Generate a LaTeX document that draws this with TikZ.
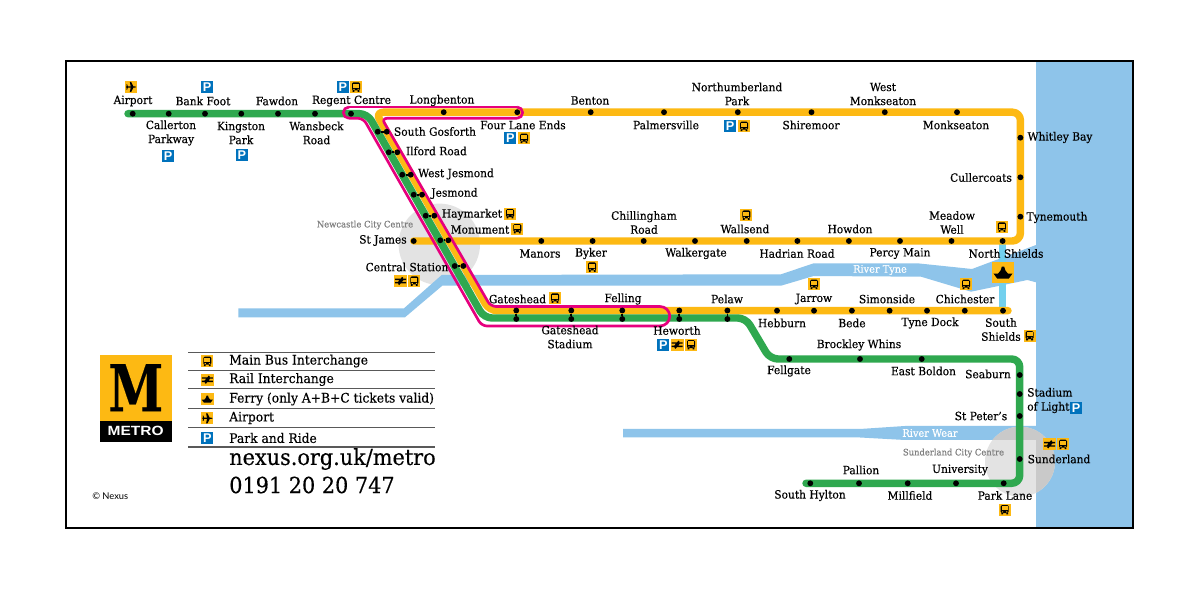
\documentclass[tikz,border=0pt]{standalone}
\usepackage{fontspec}
\usepackage{graphicx}
\setmainfont{DejaVu Serif}[FakeStretch=0.94,FakeBold=0.35]
\newfontfamily\iconfont{Liberation Sans}
\newfontfamily\nexusfont{Lato}
\definecolor{myyellow}{HTML}{FDB913}
\definecolor{mygreen}{HTML}{2FA84F}
\definecolor{mypink}{HTML}{E6007E}
\definecolor{mywater}{HTML}{8EC4EA}
\definecolor{myblue}{HTML}{0072BC}
\definecolor{mycirc}{HTML}{E3E3E3}
\definecolor{mycircd}{HTML}{C9C9C9}
\tikzset{
 lbl/.style={inner sep=0pt,align=center,font=\fontsize{8.5}{10.5}\selectfont,text=black},
 lgd/.style={inner sep=0pt,anchor=west,font=\fontsize{9.8}{12}\selectfont,text=black},
 big/.style={inner sep=0pt,anchor=west,font=\fontsize{16.6}{20}\selectfont,text=black},
 graylbl/.style={inner sep=0pt,font=\fontsize{6.7}{8}\selectfont,text=black!50},
 rivlbl/.style={inner sep=0pt,font=\fontsize{7.8}{9}\selectfont,text=white},
 dot/.style={circle,fill=black,minimum size=4.4pt,inner sep=0pt},
 yline/.style={draw=myyellow,line width=5.6pt,line cap=round,line join=round},
 gline/.style={draw=mygreen,line width=5.6pt,line cap=round,line join=round},
 pline/.style={draw=mypink,line width=2pt,line join=round},
 link/.style={draw=black,line width=1.3pt},
 rule/.style={draw=black!65,line width=.8pt},
 busicon/.pic={
  \fill[myyellow] (-6,-6) rectangle (6,6);
  \fill[black,rounded corners=1pt] (-4,-4.6) rectangle (4,3.4);
  \fill[black] (-3.4,3) rectangle (-1.6,4.8) (1.6,3) rectangle (3.4,4.8);
  \fill[myyellow] (-2.9,-3.3) rectangle (2.9,0.6);
  \fill[myyellow] (-2.7,1.8) rectangle (-1.5,2.8) (1.5,1.8) rectangle (2.7,2.8);
 },
 railicon/.pic={
  \fill[myyellow] (-6.5,-6) rectangle (6.5,6);
  \draw[black,line width=1.1pt] (-5.5,-1.7) -- (5.5,-1.7) (-5.5,1.7) -- (5.5,1.7) (2,-3.6) -- (-1,0) -- (1,0) -- (-2,3.6);
 },
 ferryicon/.pic={
  \fill[myyellow] (-6.5,-6) rectangle (6.5,6);
  \fill[black] (-5.6,0.6) -- (5.6,0.6) -- (3.4,3.6) -- (-3.4,3.6) -- cycle;
  \fill[black] (-3,0.8) -- (-1.4,-1.2) -- (-0.7,-3.4) -- (0.7,-3.4) -- (1.4,-1.2) -- (3,0.8) -- cycle;
 },
 planeicon/.pic={
  \fill[myyellow] (-6,-6) rectangle (6,6);
  \fill[black] (-5,-0.6) -- (4,-0.6) -- (5.4,0) -- (4,0.6) -- (-5,0.6) -- cycle;
  \fill[black] (-1.2,-5) -- (0.2,-5) -- (2.4,-0.6) -- (2.4,0.6) -- (0.2,5) -- (-1.2,5) -- (-0.2,0) -- cycle;
  \fill[black] (-4.6,-2.6) -- (-3.8,-2.6) -- (-3,0) -- (-3.8,2.6) -- (-4.6,2.6) -- (-4.2,0) -- cycle;
 },
 parkicon/.pic={
  \fill[myblue] (-6,-6) rectangle (6,6);
  \node[inner sep=0pt,text=white,font=\iconfont\fontsize{9.5}{10}\selectfont\bfseries] at (0.1,0) {P};
 }
}
\newcommand\st[3]{\node[dot] (#1) at (#2,#3) {};}
\newcommand\lab[4]{\node[lbl] (#1) at (#2,#3) {#4};}
\begin{document}
\begin{tikzpicture}[x=0.75pt,y=-0.75pt]
\useasboundingbox (0,0) rectangle (1200,591);
\fill[white] (0,0) rectangle (1200,591);
% water
\fill[mywater] (1036,61) rectangle (1133,528);
% city circles
\fill[mycirc] (439.3,244.3) circle (40.7);
% rivers
\fill[mywater] (238.3,308.3) -- (404,308.3) -- (441.7,275) -- (781,274.3) -- (813.7,263.3) -- (917.4,263.3) -- (972,269) -- (1036,245) -- (1036,282.3) -- (1027.4,280) -- (971,291.7) -- (921,276.7) -- (813.7,276) -- (781,285.7) -- (442.3,285.7) -- (405,317.3) -- (238.3,317.3) -- cycle;
\fill[mywater] (623,429) -- (860,429) -- (905,426) -- (1036,426) -- (1036,440) -- (905,440) -- (860,437.5) -- (623,437.5) -- cycle;
\fill[mycirc] (1020,461.7) circle (35);
\begin{scope}
 \clip (1036,400) rectangle (1100,520);
 \fill[mycircd] (1020,461.7) circle (35);
\end{scope}
\begin{scope}
 \clip (960,420) rectangle (1040,440);
 \fill[mycircd] (1020,461.7) circle (35);
\end{scope}
% North Shields ferry crossing
\coordinate (ferrytop) at (1002.6,241);
\coordinate (ferrybot) at (1002.6,310);
\draw[draw=mywater!80!cyan,line width=5.2pt] (ferrytop) -- (ferrybot);
% frame
\draw[black,line width=1.6pt] (66,61) rectangle (1133,528);
% lines
\coordinate (yA) at (413.7,241);
\coordinate (yB) at (1020.4,241);
\coordinate (yC) at (1020.4,112.2);
\coordinate (yD) at (375.4,112.2);
\coordinate (yE) at (489.3,310.7);
\coordinate (yF) at (1008,310.7);
\coordinate (gA) at (128,113.7);
\coordinate (gB) at (367.4,113.7);
\coordinate (gC) at (484,318);
\coordinate (gD) at (745.7,318);
\coordinate (gE) at (770,359);
\coordinate (gF) at (1019.7,359);
\coordinate (gG) at (1019.7,483.3);
\coordinate (gH) at (806,483.3);
\path[yline,rounded corners=6pt] (yA) -- (yB) -- (yC) -- (yD) -- (yE) -- (yF);
\path[gline,rounded corners=6pt] (gA) -- (gB) -- (gC) -- (gD) -- (gE) -- (gF) -- (gG) -- (gH);
% magenta section
\coordinate (pA) at (349,107);
\coordinate (pB) at (517,107);
\coordinate (pC) at (517,118.3);
\coordinate (pD) at (381.7,118.3);
\coordinate (pE) at (490.7,306.5);
\coordinate (pF) at (660,306.5);
\coordinate (pG) at (660,326);
\coordinate (pH) at (481.7,326);
\coordinate (pI) at (363.3,118.3);
\coordinate (pJ) at (349,118.3);
\draw[pline] (pB) arc[start angle=-90,end angle=90,radius=5.65];
\draw[pline] (pF) arc[start angle=-90,end angle=90,radius=9.75];
\draw[pline] (pJ) arc[start angle=90,end angle=270,radius=5.65];
\draw[pline] (pA) -- (pB);
\draw[pline,rounded corners=4pt] (pC) -- (pD) -- (pE) -- (pF);
\draw[pline,rounded corners=4pt] (pG) -- (pH) -- (pI) -- (pJ);
% stations
\st{airport}{132.7}{113.7}\st{callerton}{168.7}{113.7}\st{bankfoot}{205}{113.7}\st{kingston}{241.3}{113.7}\st{fawdon}{278}{113.7}\st{wansbeck}{315}{113.7}\st{regent}{351}{113.7}
\st{longbenton}{443.7}{112.2}\st{fourlane}{517.3}{112.2}\st{benton}{590.7}{112.2}\st{palmers}{664}{112.2}\st{northumb}{737.8}{112.2}\st{shiremoor}{811.5}{112.2}\st{westmonk}{884.8}{112.2}\st{monkseaton}{957}{112.2}
\st{whitley}{1020.4}{137.7}\st{culler}{1020.4}{177.3}\st{tynemouth}{1020.4}{216.7}
\st{stjames}{413.7}{241}\st{manors}{541.3}{241}\st{byker}{592.6}{241}\st{chilling}{643.7}{241}\st{walker}{695}{241}\st{wallsend}{746.7}{241}\st{hadrian}{797.4}{241}\st{howdon}{848.9}{241}\st{percy}{900}{241}\st{meadow}{951.5}{241}\st{nshields}{1002.6}{241}
\st{sgG}{377.7}{131.7}\st{sgY}{386.7}{131.7}\st{ilG}{388.7}{152.3}\st{ilY}{397.3}{152.3}\st{wjG}{402.3}{174.7}\st{wjY}{410.7}{174.7}\st{jeG}{413.7}{194.7}\st{jeY}{422}{194.7}\st{haG}{425.7}{215.7}\st{haY}{434.3}{215.7}\st{moG}{440.3}{240.3}\st{moY}{448.3}{240.3}\st{ceG}{454.7}{266}\st{ceY}{463.3}{266}
\st{gaY}{516.3}{310.5}\st{gaG}{516.3}{319}\st{gsY}{571.3}{310.5}\st{gsG}{571.3}{319}\st{feY}{622.3}{310.5}\st{feG}{622.3}{319}\st{heY}{679.3}{310.5}\st{heG}{679.3}{319}\st{peY}{727.4}{310.5}\st{peG}{727.4}{319}
\st{hebburn}{777}{310.7}\st{jarrow}{814}{310.7}\st{bede}{851.9}{310.7}\st{simon}{889.6}{310.7}\st{tyned}{927}{310.7}\st{chich}{964.8}{310.7}\st{sshields}{1003}{310.7}
\st{fellgate}{789.3}{359}\st{brockley}{860}{359}\st{eboldon}{921.7}{359}
\st{seaburn}{1019.7}{375}\st{stadium}{1019.7}{394}\st{stpeters}{1019.7}{416}\st{sunderland}{1019.7}{459}
\st{shylton}{810.3}{483.3}\st{pallion}{859}{483.3}\st{millfield}{907.7}{483.3}\st{university}{956}{483.3}\st{parklane}{1003.7}{483.3}
\foreach \a/\b in {sgG/sgY,ilG/ilY,wjG/wjY,jeG/jeY,haG/haY,moG/moY,ceG/ceY,gaY/gaG,gsY/gsG,feY/feG,heY/heG,peY/peG}
 \draw[link] (\a) -- (\b);
% labels
\lab{tAirport}{133}{101}{Airport}
\lab{tBank}{203}{101}{Bank Foot}
\lab{tFawdon}{277}{101}{Fawdon}
\lab{tRegent}{351.5}{101}{Regent Centre}
\lab{tLong}{442}{100.5}{Longbenton}
\lab{tBenton}{590}{100.5}{Benton}
\lab{tNorth}{737}{94}{Northumberland\\Park}
\lab{tWest}{883}{94}{West\\Monkseaton}
\lab{tCall}{171}{133}{Callerton\\Parkway}
\lab{tKing}{241}{133}{Kingston\\Park}
\lab{tWans}{316.5}{133}{Wansbeck\\Road}
\lab{tFour}{523}{125}{Four Lane Ends}
\lab{tPalm}{666}{125}{Palmersville}
\lab{tShire}{811}{125}{Shiremoor}
\lab{tMonk}{956}{125}{Monkseaton}
\lab{tSG}{435}{131.5}{South Gosforth}
\lab{tIl}{436.5}{151}{Ilford Road}
\lab{tWJ}{456}{174}{West Jesmond}
\lab{tJe}{454.5}{193.5}{Jesmond}
\lab{tHa}{472}{214.5}{Haymarket}
\lab{tMo}{480}{229.5}{Monument}
\lab{tSJ}{383}{240.5}{St James}
\lab{tCe}{407}{267}{Central Station}
\lab{tWh}{1060}{137.5}{Whitley Bay}
\lab{tCu}{981}{177.5}{Cullercoats}
\lab{tTy}{1057}{217.5}{Tynemouth}
\lab{tCh}{644}{222.5}{Chillingham\\Road}
\lab{tWa}{745}{229}{Wallsend}
\lab{tHo}{850}{229}{Howdon}
\lab{tMe}{952}{222.5}{Meadow\\Well}
\lab{tMa}{540}{253.5}{Manors}
\lab{tBy}{591}{253.5}{Byker}
\lab{tWk}{696}{253.5}{Walkergate}
\lab{tHd}{797}{253.5}{Hadrian Road}
\lab{tPe}{900}{253.5}{Percy Main}
\lab{tNS}{1006}{253.5}{North Shields}
\lab{tGa}{517.5}{299}{Gateshead}
\lab{tFe}{623}{299}{Felling}
\lab{tPl}{727}{299}{Pelaw}
\lab{tJa}{814}{299}{Jarrow}
\lab{tSi}{887}{299}{Simonside}
\lab{tCi}{965}{299}{Chichester}
\lab{tGS}{570}{337}{Gateshead\\Stadium}
\lab{tHw}{677}{330.5}{Heworth}
\lab{tHe}{782}{323}{Hebburn}
\lab{tBe}{852}{323}{Bede}
\lab{tTD}{930}{323}{Tyne Dock}
\lab{tSS}{1001}{329.5}{South\\Shields}
\lab{tBW}{859}{345}{Brockley Whins}
\lab{tFg}{789}{371}{Fellgate}
\lab{tEB}{923.5}{371}{East Boldon}
\lab{tSb}{988}{374}{Seaburn}
\node[lbl,align=left,anchor=west] (tSL) at (1027,400.5) {Stadium\\of Light};
\lab{tSP}{981}{416}{St Peter’s}
\lab{tSu}{1059}{459}{Sunderland}
\lab{tUn}{960}{470}{University}
\lab{tPa}{861}{470}{Pallion}
\lab{tSH}{810}{495.5}{South Hylton}
\lab{tMi}{910}{495.5}{Millfield}
\lab{tPL}{1005}{495.5}{Park Lane}
\node[graylbl] (tNCC) at (365,225) {Newcastle City Centre};
\node[graylbl] (tSCC) at (953.5,453) {Sunderland City Centre};
\node[rivlbl] (tRT) at (880,270) {River Tyne};
\node[rivlbl] (tRW) at (930,433) {River Wear};
% icons
\pic at (131,87) {planeicon};
\pic at (207,87) {parkicon};
\pic at (168,155.7) {parkicon};
\pic at (241.7,155.3) {parkicon};
\pic at (342.7,87) {parkicon};
\pic at (356,87) {busicon};
\pic at (510.3,138.3) {parkicon};
\pic at (524,138.3) {busicon};
\pic at (510,213.7) {busicon};
\pic at (517.3,228.7) {busicon};
\pic at (400.7,281) {railicon};
\pic at (414.3,281) {busicon};
\pic at (592.2,267) {busicon};
\pic at (746.3,215) {busicon};
\pic at (730,126.3) {parkicon};
\pic at (744,126.3) {busicon};
\pic at (1001.9,227) {busicon};
\pic at (814,284.3) {busicon};
\pic at (966,284.3) {busicon};
\pic at (1029.6,335.7) {busicon};
\pic at (555,298) {busicon};
\pic at (663.3,344.7) {parkicon};
\pic at (677,344.7) {railicon};
\pic at (691,344.7) {busicon};
\pic at (1076,408) {parkicon};
\pic at (1049.7,444.3) {railicon};
\pic at (1063,444.3) {busicon};
\pic at (1004.7,509.7) {busicon};
\pic[scale=1.7] at (1003,272.5) {ferryicon};
% logo
\fill[myyellow] (99.7,355) rectangle (172.3,421);
\fill[black] (99.7,421) rectangle (172.3,442.3);
\node[inner sep=0pt] (logoM) at (135.8,387.7) {\resizebox{41.25pt}{35.25pt}{\bfseries M}};
\node[inner sep=0pt,text=white] (logoT) at (135.7,431.3) {\resizebox{42pt}{7pt}{\iconfont\bfseries METRO}};
% legend
\coordinate (r1a) at (188.3,352.7);\coordinate (r1b) at (435,352.7);
\coordinate (r2a) at (188.3,370.3);\coordinate (r2b) at (435,370.3);
\coordinate (r3a) at (188.3,388.3);\coordinate (r3b) at (435,388.3);
\coordinate (r4a) at (188.3,408.7);\coordinate (r4b) at (435,408.7);
\coordinate (r5a) at (188.3,427.7);\coordinate (r5b) at (435,427.7);
\coordinate (r6a) at (188.3,447);\coordinate (r6b) at (435,447);
\foreach \i in {1,...,6} \draw[rule] (r\i a) -- (r\i b);
\pic at (207.3,361.3) {busicon};
\pic at (207.3,379.7) {railicon};
\pic at (207.3,399) {ferryicon};
\pic at (207.3,418.3) {planeicon};
\pic at (207.3,438.3) {parkicon};
\node[lgd] (k1) at (229,361) {Main Bus Interchange};
\node[lgd] (k2) at (229,379.5) {Rail Interchange};
\node[lgd] (k3) at (229,399) {Ferry (only A+B+C tickets valid)};
\node[lgd] (k4) at (229,418) {Airport};
\node[lgd] (k5) at (229,438) {Park and Ride};
\node[big] (web) at (229,459) {nexus.org.uk/metro};
\node[big] (tel) at (229,485) {0191 20 20 747};
\node[inner sep=0pt,anchor=west,font=\nexusfont\fontsize{7}{8}\selectfont] (copy) at (92,496.5) {© Nexus};
\end{tikzpicture}
\end{document}
